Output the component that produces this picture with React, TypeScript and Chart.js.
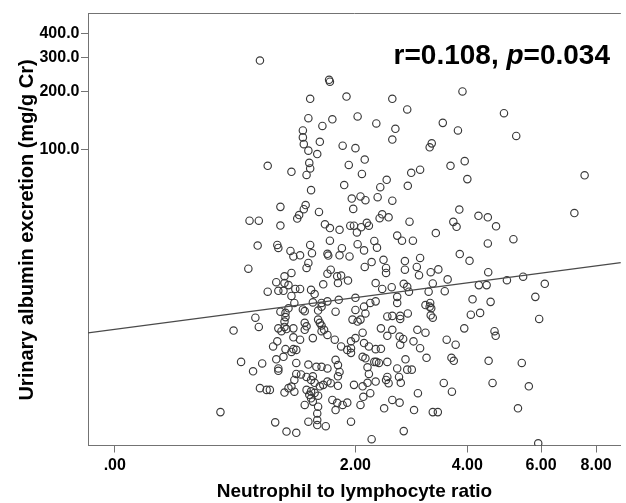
import React, { useEffect, useRef } from "react";
import { Chart, registerables } from "chart.js";

Chart.register(...registerables);

// Neutrophil to lymphocyte ratio (NLR) of each subject
const nlr = [
  0.94, 1.66, 1.67, 1.44, 1.42, 1.7, 1.58, 1.36, 1.36, 1.37, 1.42, 1.55, 1.52, 1.43, 1.44, 1.4, 1.01, 1.24, 1.45, 1.13, 1.39, 1.37, 1.32, 1.3, 1.54,
  1.88, 2.03, 1.83, 2.0, 1.91, 2.13, 2.09, 1.85, 1.95, 2.07, 2.14, 1.97, 2.55, 2.8, 4.91, 2.3, 2.6, 3.47, 3.79, 5.25, 2.55, 3.25, 3.21, 2.87, 3.03,
  2.81, 3.63, 3.94, 4.0, 7.54, 2.36, 2.46, 2.32, 2.55, 3.82, 7.15, 2.35, 2.49, 3.89, 4.26, 4.49, 2.39,
  1.61, 1.67, 1.79, 1.93, 1.98, 2.02, 2.08, 2.16, 2.19, 1.67, 1.44, 1.82, 2.03, 2.27, 2.31, 2.12,
  0.85, 0.93, 1.13, 0.92, 1.1, 1.11, 1.23, 1.26, 0.84, 1.01, 1.09, 1.11, 1.16, 1.17, 1.17, 1.24, 1.21, 1.24, 1.28, 0.9, 0.93, 0.72, 1.13, 1.18, 1.18,
  1.17, 1.17, 1.19, 1.11, 1.14, 1.26, 1.1, 1.06, 1.18, 1.26, 1.24, 1.16, 1.09, 1.11, 1.11, 0.78, 0.96, 0.88, 1.29, 1.29, 1.27, 0.94, 1.0, 1.03, 1.17,
  1.21, 1.24, 1.27, 0.62, 1.08, 1.19, 1.29,
  1.33, 1.46, 1.42, 1.4, 1.64, 1.65, 1.79, 1.92, 1.68, 1.64, 1.76, 1.81, 1.9, 1.77, 2.13, 2.23, 2.41, 2.45, 2.45, 2.29, 2.39, 2.54, 1.33, 1.45, 1.49,
  1.59, 1.21, 1.27, 1.36, 1.38, 1.47, 1.53, 1.57, 1.57, 1.64, 1.78, 1.74, 2.0, 2.0, 2.14, 2.12, 2.21, 2.29, 1.96, 2.03, 2.07, 2.47, 2.55, 1.53, 1.55,
  1.57, 1.6, 1.57, 1.64, 1.26, 1.38, 1.38, 1.4, 1.47, 1.33, 1.29, 1.73, 1.81, 1.94, 2.0, 1.89, 1.94, 1.94, 2.12, 2.19, 2.1, 2.14, 2.17, 2.27, 2.3,
  2.34, 2.47, 2.47, 2.45, 1.42, 1.51, 1.57, 1.64, 1.74, 1.77, 1.79, 1.77, 1.34, 1.4, 1.47, 1.45, 1.49, 1.55, 1.4, 1.45, 1.49, 1.43, 1.45, 1.53, 1.47,
  1.59, 1.64, 1.68, 1.77, 1.98, 2.1, 2.17, 2.29, 2.21, 1.7, 1.76, 1.83, 1.89, 1.74, 2.07, 2.55, 2.42, 1.38, 1.53, 1.52, 1.52, 1.42, 1.52, 1.62, 1.94,
  2.23, 2.37, 2.55, 2.1, 2.47, 2.29, 2.37, 2.19, 2.49, 2.11,
  4.7, 3.69, 3.76, 2.84, 3.33, 5.17, 4.49, 2.63, 2.71, 2.9, 3.83, 4.05, 2.76, 2.76, 2.97, 3.03, 3.01, 3.23, 3.38, 3.57, 4.5, 4.99, 5.45, 6.12, 2.74,
  2.8, 2.83, 3.27, 3.51, 3.19, 4.27, 4.46, 2.63, 2.63, 4.12, 4.56, 5.82, 3.13, 3.22, 3.21, 3.24, 3.23, 3.27, 2.81, 2.68, 2.68, 4.08, 4.3, 5.94, 3.93,
  4.66, 4.69, 2.98, 3.13, 2.67, 2.73, 2.68, 2.91, 3.03, 3.55, 3.74, 3.15, 3.65, 3.7, 2.77, 2.8, 2.88, 2.63, 2.66, 4.51, 5.41, 2.69, 3.49, 3.66, 4.61,
  5.62, 2.99, 2.67, 2.92, 3.27, 3.37, 5.3, 2.74, 5.91,
];

// Urinary albumin excretion (mg/g Cr) of each subject, same order
const uae = [
  291, 231, 226, 184, 146, 144, 133, 126, 116, 107, 99, 110, 95, 85.5, 80, 74, 82.6, 76.8, 61.7, 50.5, 51.6, 49.1, 45.8, 43.9, 47.5,
  189, 149, 105, 102, 83.4, 89, 74.9, 65.6, 55.8, 57.2, 54.7, 49.3, 184, 162, 155, 137, 128.5, 138, 126, 118, 113, 108, 103, 75.9, 78.8,
  65.0, 82.6, 87.3, 70.4, 73.7, 63.9, 69.8, 56.7, 54.4, 48.9, 46.9, 44.1, 44.6, 201, 45.4, 44.6, 46.2,
  41.0, 39.2, 38.4, 40.3, 40.3, 37.2, 39.6, 41.7, 40.3, 33.7, 32.0, 30.8, 32.3, 33.6, 31.0, 30.0,
  42.8, 42.8, 40.4, 31.8, 32.0, 30.9, 29.8, 27.9, 24.1, 18.3, 20.5, 18.5, 18.5, 20.3, 22.0, 22.9, 19.8, 17.4, 18.9, 13.4, 12.0, 11.5, 14.4, 14.2, 13.5,
  12.8, 12.0, 11.7, 11.8, 11.4, 10.6, 10.1, 9.5, 9.2, 9.2, 8.9, 8.4, 8.15, 7.3, 7.1, 7.9, 7.75, 7.06, 7.8, 6.84, 6.36, 5.77, 5.65, 5.65, 5.47,
  5.77, 5.88, 5.53, 4.33, 3.83, 3.43, 3.38,
  28.3, 29.0, 25.8, 24.3, 28.8, 28.2, 28.3, 27.9, 23.8, 22.7, 22.0, 22.2, 20.9, 20.3, 24.6, 26.1, 26.8, 24.3, 22.9, 20.3, 18.9, 19.3, 18.9, 18.7, 17.8,
  20.0, 15.0, 16.0, 14.8, 14.5, 16.1, 14.6, 16.0, 15.3, 16.3, 16.6, 14.4, 17.0, 14.7, 14.1, 15.3, 16.0, 16.3, 13.1, 12.8, 13.1, 13.6, 13.7, 13.1, 12.6,
  12.2, 11.6, 11.4, 10.9, 11.8, 11.6, 12.6, 12.1, 10.5, 10.3, 9.12, 10.3, 9.5, 10.1, 10.5, 9.12, 9.3, 8.8, 9.9, 9.5, 8.4, 8.25, 7.4, 7.9, 7.9,
  7.8, 7.9, 6.6, 6.36, 7.65, 7.45, 7.45, 7.3, 8.09, 7.6, 7.0, 6.65, 6.8, 6.6, 6.65, 6.36, 6.15, 5.9, 5.65, 5.55, 5.45, 5.33, 5.11, 5.27, 4.91,
  6.0, 6.24, 6.12, 5.93, 6.0, 5.9, 6.15, 6.24, 5.43, 5.01, 4.84, 4.72, 4.85, 4.44, 4.72, 5.01, 4.53, 4.72, 4.62, 4.26, 3.94, 3.86, 3.71, 3.66, 3.86,
  3.13, 11.8, 11.6, 11.2, 10.8, 9.2, 9.24, 6.84, 6.12, 5.2,
  40.0, 42.2, 39.8, 42.3, 36.9, 34.3, 32.6, 35.8, 33.7, 33.7, 28.7, 26.5, 26.4, 23.8, 24.6, 27.4, 22.3, 23.1, 23.9, 21.2, 23.1, 21.0, 21.9, 20.1, 20.1,
  19.4, 18.3, 20.2, 18.4, 18.3, 19.8, 19.8, 17.2, 16.0, 16.7, 16.2, 17.2, 15.6, 16.0, 15.3, 15.0, 13.8, 13.4, 14.1, 13.7, 13.2, 13.9, 14.2, 13.2, 11.8,
  11.4, 10.8, 11.6, 11.2, 10.7, 10.4, 9.7, 10.1, 9.3, 10.3, 9.7, 8.3, 8.3, 8.0, 8.15, 7.2, 7.2, 7.3, 6.6, 8.0, 7.8, 6.15, 6.14, 5.53, 6.14,
  5.9, 5.43, 4.85, 4.44, 4.33, 4.33, 4.53, 3.45, 2.98,
];

// Axis ticks
const xTickValues = [0, 2, 4, 6, 8];
const xTickLabels = [".00", "2.00", "4.00", "6.00", "8.00"];
const yTickValues = [100, 200, 300, 400];
const yTickLabels = ["100.0", "200.0", "300.0", "400.0"];

// Axis ranges (NLR axis is drawn on a log(NLR + 1) scale)
const xRange = [-0.115, 9.076];
const yRange = [2.904, 514];

// Fitted line: UAE = a * (NLR + 1) ^ b
const fitA = 11.67;
const fitB = 0.3455;

const xTitle = "Neutrophil to lymphocyte ratio";
const yTitle = "Urinary albumin excretion (mg/g Cr)";
const statR = "r=0.108, ";
const statP = "p";
const statPValue = "=0.034";

const FONT = '"Liberation Sans", Arial, Helvetica, sans-serif';
const AXIS_COLOR = "#737373";

const textPlugin = {
  id: "spssTexts",
  afterDraw(chart: any) {
    const ctx = chart.ctx as CanvasRenderingContext2D;
    const xs = chart.scales.x;
    const ys = chart.scales.y;
    const area = chart.chartArea;
    ctx.save();
    // top frame line
    ctx.strokeStyle = AXIS_COLOR;
    ctx.lineWidth = 1;
    ctx.beginPath();
    ctx.moveTo(area.left, Math.round(area.top) + 0.5);
    ctx.lineTo(area.right, Math.round(area.top) + 0.5);
    ctx.stroke();

    ctx.fillStyle = "#000";
    ctx.font = `bold 16px ${FONT}`;
    ctx.textAlign = "right";
    ctx.textBaseline = "middle";
    yTickValues.forEach((v, i) => {
      ctx.fillText(yTickLabels[i], area.left - 8.5, ys.getPixelForValue(v));
    });
    ctx.textAlign = "center";
    xTickValues.forEach((v, i) => {
      ctx.fillText(xTickLabels[i], xs.getPixelForValue(v + 1), 466);
    });

    ctx.textBaseline = "alphabetic";
    ctx.font = `bold 19px ${FONT}`;
    ctx.fillText(xTitle, (area.left + area.right) / 2, 497);

    ctx.save();
    ctx.translate(33, 230);
    ctx.rotate(-Math.PI / 2);
    ctx.font = `bold 20px ${FONT}`;
    ctx.textAlign = "center";
    ctx.fillText(yTitle, 0, 0);
    ctx.restore();

    // correlation statistics
    ctx.textAlign = "left";
    const fb = `bold 28px ${FONT}`;
    const fi = `italic bold 28px ${FONT}`;
    ctx.font = fb;
    const w1 = ctx.measureText(statR).width;
    const w3 = ctx.measureText(statPValue).width;
    ctx.font = fi;
    const w2 = ctx.measureText(statP).width;
    let sx = 610 - (w1 + w2 + w3);
    const sy = 64;
    ctx.font = fb;
    ctx.fillText(statR, sx, sy);
    sx += w1;
    ctx.font = fi;
    ctx.fillText(statP, sx, sy);
    sx += w2;
    ctx.font = fb;
    ctx.fillText(statPValue, sx, sy);
    ctx.restore();
  },
};

export default function App() {
  const ref = useRef<HTMLCanvasElement | null>(null);

  useEffect(() => {
    if (!ref.current) return;
    const points = nlr.map((n, i) => ({ x: n + 1, y: uae[i] }));
    const fit = (n: number) => fitA * Math.pow(n + 1, fitB);
    const linePts = [
      { x: xRange[0] + 1, y: fit(xRange[0]) },
      { x: xRange[1] + 1, y: fit(xRange[1]) },
    ];
    const chart = new Chart(ref.current, {
      type: "scatter",
      data: {
        datasets: [
          {
            data: linePts,
            showLine: true,
            borderColor: "#4a4a4a",
            borderWidth: 1.3,
            pointRadius: 0,
            fill: false,
          } as any,
          {
            data: points,
            pointRadius: 3.7,
            pointBorderWidth: 1.15,
            borderColor: "#3a3a3a",
            backgroundColor: "rgba(0,0,0,0)",
            pointBackgroundColor: "rgba(0,0,0,0)",
            pointBorderColor: "#3a3a3a",
          } as any,
        ],
      },
      options: {
        animation: false,
        responsive: false,
        maintainAspectRatio: false,
        events: [],
        layout: { padding: { top: 13, left: 0, right: 0, bottom: 0 } },
        plugins: { legend: { display: false }, tooltip: { enabled: false } },
        scales: {
          x: {
            type: "logarithmic",
            min: xRange[0] + 1,
            max: xRange[1] + 1,
            afterBuildTicks: (s: any) => {
              s.ticks = xTickValues.map((v) => ({ value: v + 1 }));
            },
            afterFit: (s: any) => {
              s.height = 57.5;
            },
            ticks: { display: false },
            grid: { display: true, drawOnChartArea: false, drawTicks: true, tickLength: 7, color: AXIS_COLOR },
            border: { display: true, color: AXIS_COLOR, width: 1 },
          },
          y: {
            type: "logarithmic",
            min: yRange[0],
            max: yRange[1],
            afterBuildTicks: (s: any) => {
              s.ticks = yTickValues.map((v) => ({ value: v }));
            },
            afterFit: (s: any) => {
              s.width = 88;
            },
            ticks: { display: false },
            grid: { display: true, drawOnChartArea: false, drawTicks: true, tickLength: 7, color: AXIS_COLOR },
            border: { display: true, color: AXIS_COLOR, width: 1 },
          },
        },
      } as any,
      plugins: [textPlugin],
    });
    return () => chart.destroy();
  }, []);

  return (
    <div style={{ position: "absolute", left: 0, top: 0, width: 626, height: 503, background: "#fff" }}>
      <canvas ref={ref} width={626} height={503} />
    </div>
  );
}
